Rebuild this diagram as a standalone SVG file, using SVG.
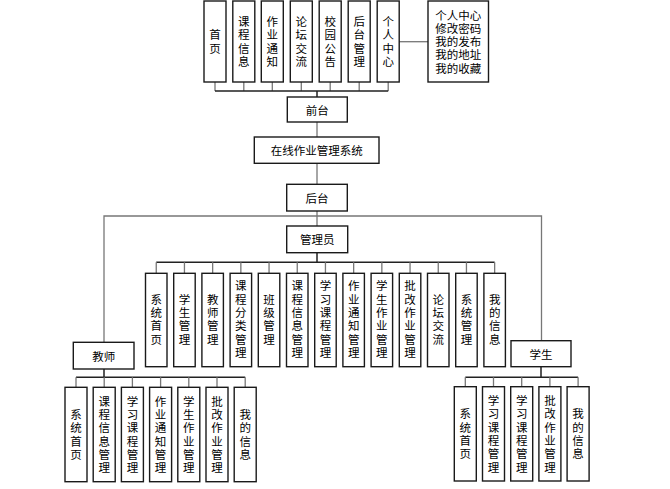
<svg xmlns="http://www.w3.org/2000/svg" width="670" height="489" viewBox="0 0 670 489">
<style>
.b{fill:#fff;stroke:#1a1a1a;stroke-width:1.4}
.t{font-family:"Noto Sans CJK SC","Liberation Sans",sans-serif;font-size:11.5px;fill:#000;text-anchor:middle;dominant-baseline:central}
.v{font-family:"Noto Sans CJK SC","Liberation Sans",sans-serif;font-size:11.5px;fill:#000;text-anchor:middle;writing-mode:vertical-rl;letter-spacing:1.8px}
.c{fill:none;stroke:#777;stroke-width:1.3}
.k{fill:none;stroke:#222;stroke-width:1.5}
</style>
<rect width="670" height="489" fill="#fff"/>
<g id="connectors">
<path class="c" d="M215 82V91M243.8 82V91M272.3 82V91M301.3 82V91M330.2 82V91M359.2 82V91M388.2 82V91"/>
<path class="k" d="M215 91H388.2M317 91V97"/>
<path class="c" d="M399 41.7H428"/>
<path class="c" d="M317 122V137M317 163V184M317 211V226M104 342V216H541.5V341"/>
<path class="k" d="M317 252.7V262.3M156.25 262.3H494.65"/>
<path class="c" d="M156.25 262.3V273M184.45 262.3V273M212.65 262.3V273M240.85 262.3V273M269.05 262.3V273M297.25 262.3V273M325.45 262.3V273M353.65 262.3V273M381.85 262.3V273M410.05 262.3V273M438.25 262.3V273M466.45 262.3V273M494.65 262.3V273"/>
<path class="k" d="M104 369V377.3M76 377.3H245.2M541 366.7V377.3M465.3 377.3H578.1"/>
<path class="c" d="M76 377.3V387M104.2 377.3V387M132.4 377.3V387M160.6 377.3V387M188.8 377.3V387M217 377.3V387M245.2 377.3V387M465.3 377.3V387M493.5 377.3V387M521.7 377.3V387M549.9 377.3V387M578.1 377.3V387"/>
</g>
<g id="top-shouye"><rect class="b" x="204" y="1" width="22" height="81"/><text class="v" x="215" y="42.4">首页</text></g>
<g id="top-kecheng"><rect class="b" x="232.8" y="1" width="22" height="81"/><text class="v" x="243.8" y="42.4">课程信息</text></g>
<g id="top-zuoye"><rect class="b" x="261.3" y="1" width="22" height="81"/><text class="v" x="272.3" y="42.4">作业通知</text></g>
<g id="top-luntan"><rect class="b" x="290.3" y="1" width="22" height="81"/><text class="v" x="301.3" y="42.4">论坛交流</text></g>
<g id="top-xiaoyuan"><rect class="b" x="319.2" y="1" width="22" height="81"/><text class="v" x="330.2" y="42.4">校园公告</text></g>
<g id="top-houtai"><rect class="b" x="348.2" y="1" width="22" height="81"/><text class="v" x="359.2" y="42.4">后台管理</text></g>
<g id="top-geren"><rect class="b" x="377.2" y="1" width="22" height="81"/><text class="v" x="388.2" y="42.4">个人中心</text></g>
<g id="top-geren-detail"><rect class="b" x="428" y="1" width="60.5" height="81"/><text class="t"><tspan x="458.2" y="14.5">个人中心</tspan><tspan x="458.2" dy="13.3">修改密码</tspan><tspan x="458.2" dy="13.3">我的发布</tspan><tspan x="458.2" dy="13.3">我的地址</tspan><tspan x="458.2" dy="13.3">我的收藏</tspan></text></g>
<g id="qiantai"><rect class="b" x="287.3" y="97" width="60" height="25"/><text class="t" x="317.3" y="109.5">前台</text></g>
<g id="system"><rect class="b" x="254.3" y="137" width="124.7" height="26.3"/><text class="t" x="316.7" y="150.2">在线作业管理系统</text></g>
<g id="houtai"><rect class="b" x="286.7" y="184.3" width="60.6" height="26.7"/><text class="t" x="317" y="197.7">后台</text></g>
<g id="admin"><rect class="b" x="286.7" y="226" width="61" height="26.7"/><text class="t" x="317.2" y="239.3">管理员</text></g>
<g id="admin-1"><rect class="b" x="145.5" y="273.3" width="21.5" height="93.4"/><text class="v" x="156.25" y="320.2">系统首页</text></g>
<g id="admin-2"><rect class="b" x="173.7" y="273.3" width="21.5" height="93.4"/><text class="v" x="184.45" y="320.2">学生管理</text></g>
<g id="admin-3"><rect class="b" x="201.9" y="273.3" width="21.5" height="93.4"/><text class="v" x="212.65" y="320.2">教师管理</text></g>
<g id="admin-4"><rect class="b" x="230.1" y="273.3" width="21.5" height="93.4"/><text class="v" x="240.85" y="320.2">课程分类管理</text></g>
<g id="admin-5"><rect class="b" x="258.3" y="273.3" width="21.5" height="93.4"/><text class="v" x="269.05" y="320.2">班级管理</text></g>
<g id="admin-6"><rect class="b" x="286.5" y="273.3" width="21.5" height="93.4"/><text class="v" x="297.25" y="320.2">课程信息管理</text></g>
<g id="admin-7"><rect class="b" x="314.7" y="273.3" width="21.5" height="93.4"/><text class="v" x="325.45" y="320.2">学习课程管理</text></g>
<g id="admin-8"><rect class="b" x="342.9" y="273.3" width="21.5" height="93.4"/><text class="v" x="353.65" y="320.2">作业通知管理</text></g>
<g id="admin-9"><rect class="b" x="371.1" y="273.3" width="21.5" height="93.4"/><text class="v" x="381.85" y="320.2">学生作业管理</text></g>
<g id="admin-10"><rect class="b" x="399.3" y="273.3" width="21.5" height="93.4"/><text class="v" x="410.05" y="320.2">批改作业管理</text></g>
<g id="admin-11"><rect class="b" x="427.5" y="273.3" width="21.5" height="93.4"/><text class="v" x="438.25" y="320.2">论坛交流</text></g>
<g id="admin-12"><rect class="b" x="455.7" y="273.3" width="21.5" height="93.4"/><text class="v" x="466.45" y="320.2">系统管理</text></g>
<g id="admin-13"><rect class="b" x="483.9" y="273.3" width="21.5" height="93.4"/><text class="v" x="494.65" y="320.2">我的信息</text></g>
<g id="teacher"><rect class="b" x="73.3" y="342.3" width="60.7" height="26.7"/><text class="t" x="103.7" y="355.7">教师</text></g>
<g id="teacher-1"><rect class="b" x="65" y="387.3" width="22" height="94.4"/><text class="v" x="76" y="435.4">系统首页</text></g>
<g id="teacher-2"><rect class="b" x="93.2" y="387.3" width="22" height="94.4"/><text class="v" x="104.2" y="435.4">课程信息管理</text></g>
<g id="teacher-3"><rect class="b" x="121.4" y="387.3" width="22" height="94.4"/><text class="v" x="132.4" y="435.4">学习课程管理</text></g>
<g id="teacher-4"><rect class="b" x="149.6" y="387.3" width="22" height="94.4"/><text class="v" x="160.6" y="435.4">作业通知管理</text></g>
<g id="teacher-5"><rect class="b" x="177.8" y="387.3" width="22" height="94.4"/><text class="v" x="188.8" y="435.4">学生作业管理</text></g>
<g id="teacher-6"><rect class="b" x="206" y="387.3" width="22" height="94.4"/><text class="v" x="217" y="435.4">批改作业管理</text></g>
<g id="teacher-7"><rect class="b" x="234.2" y="387.3" width="22" height="94.4"/><text class="v" x="245.2" y="435.4">我的信息</text></g>
<g id="student"><rect class="b" x="511" y="340.7" width="60" height="26"/><text class="t" x="541" y="353.7">学生</text></g>
<g id="student-1"><rect class="b" x="454.3" y="386.7" width="22" height="94.3"/><text class="v" x="465.3" y="434.9">系统首页</text></g>
<g id="student-2"><rect class="b" x="482.5" y="386.7" width="22" height="94.3"/><text class="v" x="493.5" y="434.9">学习课程管理</text></g>
<g id="student-3"><rect class="b" x="510.7" y="386.7" width="22" height="94.3"/><text class="v" x="521.7" y="434.9">学习课程管理</text></g>
<g id="student-4"><rect class="b" x="538.9" y="386.7" width="22" height="94.3"/><text class="v" x="549.9" y="434.9">批改作业管理</text></g>
<g id="student-5"><rect class="b" x="567.1" y="386.7" width="22" height="94.3"/><text class="v" x="578.1" y="434.9">我的信息</text></g>
</svg>
